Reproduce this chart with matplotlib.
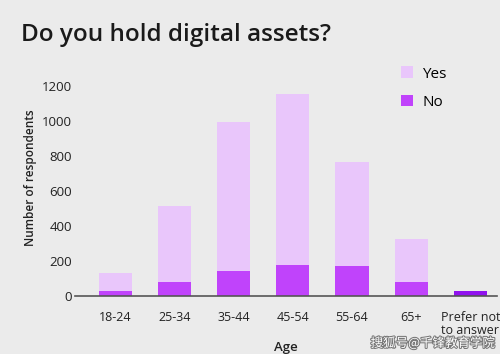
import matplotlib
matplotlib.use("Agg")
from matplotlib import pyplot as plt
from matplotlib import patheffects

ages = ["18-24", "25-34", "35-44", "45-54", "55-64", "65+", "Prefer not\nto answer"]
no_values = [29, 82, 143, 179, 173, 80, 30]
yes_values = [104, 432, 853, 973, 593, 247, 0]

bg = "#ebebeb"
yes_color = "#e9c6fb"
no_color = "#c043fb"
prefer_color = "#9012ee"

plt.rcParams['font.family'] = ['Open Sans', 'DejaVu Sans']

fig = plt.figure(figsize=(5, 3.54), dpi=100, facecolor=bg)
ax = fig.add_axes([0.15, 0.164, 0.844, 0.667], facecolor=bg)

x = list(range(len(ages)))
bar_colors = [no_color] * (len(ages) - 1) + [prefer_color]
ax.bar(x, no_values, width=0.56, color=bar_colors, label="No")
ax.bar(x, yes_values, width=0.56, bottom=no_values, color=yes_color, label="Yes")

ax.set_xlim(-0.68, 6.45)
ax.set_ylim(0, 1350)
ax.set_yticks([0, 200, 400, 600, 800, 1000, 1200])
ax.set_xticks(x)
ax.set_xticklabels(ages, fontsize=9, color="#222222", linespacing=0.95)
ax.tick_params(axis="y", length=0, pad=2, labelsize=9.5, labelcolor="#222222")
ax.tick_params(axis="x", length=0, pad=11)

for side in ["top", "right", "left"]:
    ax.spines[side].set_visible(False)
ax.spines["bottom"].set_color("#555555")
ax.spines["bottom"].set_linewidth(1.2)

ax.set_ylabel("Number of respondents", fontsize=8.5, fontweight="semibold", color="#222222", labelpad=4)
ax.set_xlabel("Age", fontsize=9.5, fontweight="semibold", color="#222222", labelpad=3)

handles, labels = ax.get_legend_handles_labels()
ax.legend(handles[::-1], labels[::-1], loc="upper left", bbox_to_anchor=(0.74, 1.03),
          frameon=False, fontsize=11, handlelength=0.8, handleheight=0.8,
          handletextpad=0.6, labelspacing=0.85)

fig.text(0.042, 0.885, "Do you hold digital assets?", fontsize=17.5, fontweight="semibold",
         color="#1a1a1a")

wm = fig.text(0.99, 0.02, "搜狐号@千锋教育学院", fontsize=9, color="white", ha="right",
              family=['Noto Sans CJK SC', 'DejaVu Sans'])
wm.set_path_effects([patheffects.withStroke(linewidth=1.5, foreground="#777777")])

plt.savefig("out.png", dpi=100, facecolor=bg)
